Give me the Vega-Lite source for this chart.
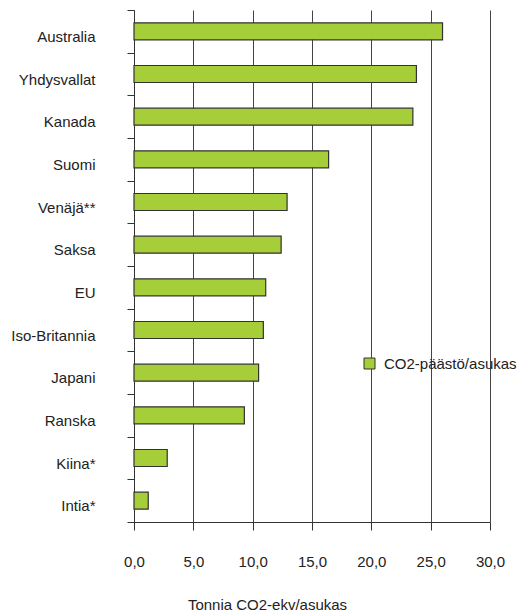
{
  "$schema": "https://vega.github.io/schema/vega-lite/v6.json",
  "autosize": "none",
  "width": 356,
  "height": 512,
  "padding": {"left": 134, "top": 10, "right": 37, "bottom": 90},
  "background": "white",
  "config": {
    "font": "Liberation Sans",
    "view": {"stroke": null},
    "locale": {"number": {"decimal": ",", "thousands": " ", "grouping": [3], "currency": ["", " €"]}}
  },
  "data": {
    "values": [
      {"maa": "Australia", "arvo": 26.0, "sarja": "CO2-päästö/asukas"},
      {"maa": "Yhdysvallat", "arvo": 23.8, "sarja": "CO2-päästö/asukas"},
      {"maa": "Kanada", "arvo": 23.5, "sarja": "CO2-päästö/asukas"},
      {"maa": "Suomi", "arvo": 16.4, "sarja": "CO2-päästö/asukas"},
      {"maa": "Venäjä**", "arvo": 12.9, "sarja": "CO2-päästö/asukas"},
      {"maa": "Saksa", "arvo": 12.4, "sarja": "CO2-päästö/asukas"},
      {"maa": "EU", "arvo": 11.1, "sarja": "CO2-päästö/asukas"},
      {"maa": "Iso-Britannia", "arvo": 10.9, "sarja": "CO2-päästö/asukas"},
      {"maa": "Japani", "arvo": 10.5, "sarja": "CO2-päästö/asukas"},
      {"maa": "Ranska", "arvo": 9.3, "sarja": "CO2-päästö/asukas"},
      {"maa": "Kiina*", "arvo": 2.8, "sarja": "CO2-päästö/asukas"},
      {"maa": "Intia*", "arvo": 1.2, "sarja": "CO2-päästö/asukas"}
    ]
  },
  "mark": {"type": "bar", "size": 17, "stroke": "#333333", "strokeWidth": 1.2},
  "encoding": {
    "y": {
      "field": "maa",
      "type": "nominal",
      "sort": null,
      "scale": {"paddingInner": 0, "paddingOuter": 0},
      "axis": {
        "title": null,
        "tickBand": "extent",
        "tickSize": 7,
        "tickColor": "#333333",
        "domainColor": "#333333",
        "labelPadding": 32,
        "labelOffset": 5,
        "labelFontSize": 15,
        "labelColor": "#222222",
        "grid": false
      }
    },
    "x": {
      "field": "arvo",
      "type": "quantitative",
      "scale": {"domain": [0, 30], "nice": false},
      "axis": {
        "title": "Tonnia CO2-ekv/asukas",
        "values": [0, 5, 10, 15, 20, 25, 30],
        "format": ".1f",
        "grid": true,
        "gridColor": "#444444",
        "gridOpacity": 1,
        "gridWidth": 1,
        "tickSize": 8,
        "tickColor": "#333333",
        "domainColor": "#333333",
        "labelPadding": 24,
        "labelFontSize": 15,
        "labelColor": "#222222",
        "labelFlush": false,
        "titleFontSize": 15,
        "titleFontWeight": "normal",
        "titleColor": "#222222",
        "titleX": 133,
        "titleY": 87,
        "titleAlign": "center",
        "titleBaseline": "alphabetic"
      }
    },
    "color": {
      "field": "sarja",
      "type": "nominal",
      "scale": {"range": ["#a6ce39"]},
      "legend": {
        "title": null,
        "orient": "none",
        "legendX": 228,
        "legendY": 346,
        "symbolType": "square",
        "symbolSize": 121,
        "symbolStrokeColor": "#333333",
        "symbolStrokeWidth": 1,
        "symbolOpacity": 1,
        "labelFontSize": 15,
        "labelColor": "#222222",
        "labelOffset": 7
      }
    }
  }
}
